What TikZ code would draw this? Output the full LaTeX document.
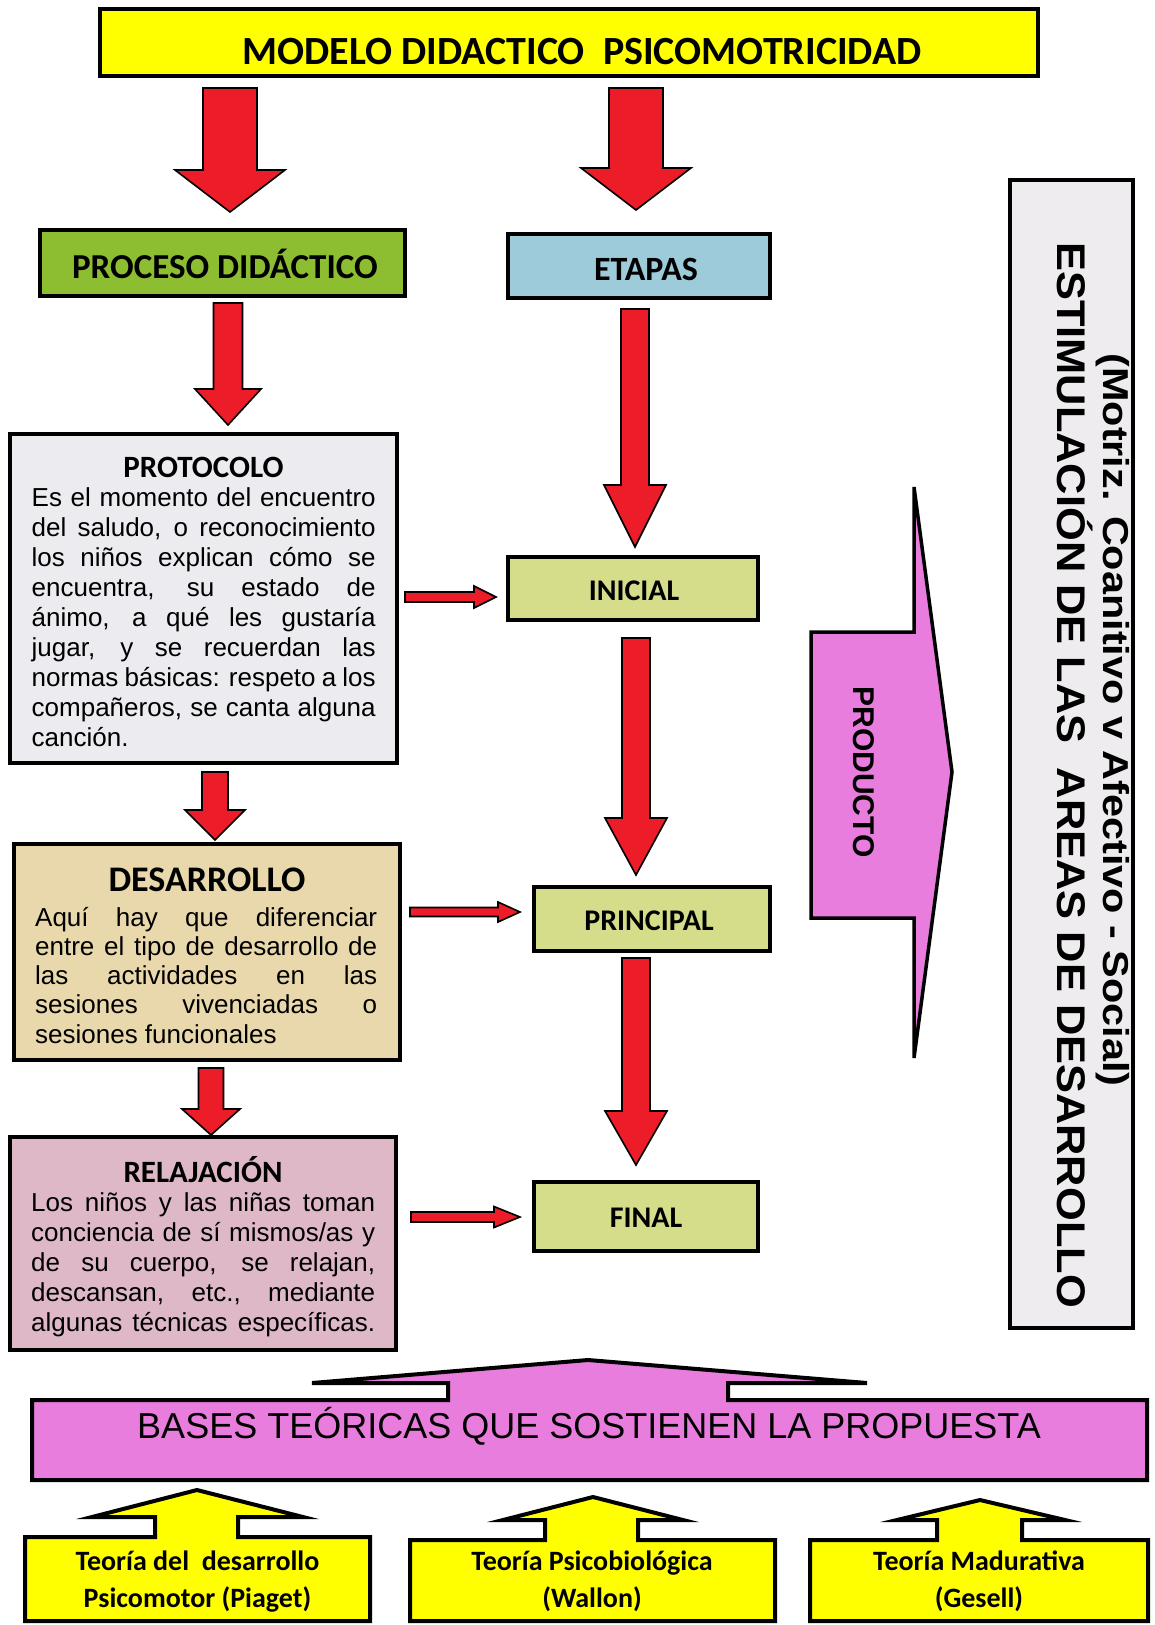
\documentclass[tikz,border=0pt]{standalone}
\usepackage{fontspec}
\usepackage{graphicx}
\setmainfont{Liberation Sans}
\newfontfamily\carl{Carlito}
\usetikzlibrary{calc}
\definecolor{ttlyellow}{RGB}{255,255,0}
\definecolor{procgreen}{RGB}{141,189,48}
\definecolor{etapblue}{RGB}{157,203,218}
\definecolor{protgray}{RGB}{236,236,240}
\definecolor{stagegreen}{RGB}{214,221,138}
\definecolor{destan}{RGB}{232,216,172}
\definecolor{relpink}{RGB}{222,184,198}
\definecolor{magpink}{RGB}{232,125,222}
\definecolor{estgray}{RGB}{238,236,238}
\definecolor{arrowred}{RGB}{236,28,40}
\newcommand\jl[1]{\hbox to \hsize{\spaceskip=0.278em plus 1fil minus 0.06em\relax\strut #1}}
\newcommand\lastline[1]{\hbox{\strut #1}}
\newcommand\downblock[5]{\draw[blockarrow] ($(#1)+(-#3,0)$) -- ($(#1)+(#3,0)$) -- ($(#2)+(#3,-#5)$) -- ($(#2)+(#4,-#5)$) -- (#2) -- ($(#2)+(-#4,-#5)$) -- ($(#2)+(-#3,-#5)$) -- cycle;}
\newcommand\rightblock[5]{\draw[blockarrow] ($(#1)+(0,-#3)$) -- ($(#2)+(-#5,-#3)$) -- ($(#2)+(-#5,-#4)$) -- (#2) -- ($(#2)+(-#5,#4)$) -- ($(#2)+(-#5,#3)$) -- ($(#1)+(0,#3)$) -- cycle;}
\tikzset{
  box/.style={draw=black, line width=4.5pt, inner sep=0pt},
  blockarrow/.style={fill=arrowred, draw=black, line width=1.6pt, line join=miter},
  shapeout/.style={draw=black, line width=4pt, line join=miter},
  txt/.style={anchor=base, inner sep=0pt},
  hd/.style={txt, font=\carl\bfseries\fontsize{#1}{#1}\selectfont},
  bodytxt/.style={anchor=base west, inner sep=0pt, font=\fontsize{26}{#1}\selectfont},
}
\begin{document}
\begin{tikzpicture}[x=1pt,y=-1pt]
\useasboundingbox[fill=white] (0,0) rectangle (1155,1625);

% ---------- boxes ----------
\node[box, fill=ttlyellow, minimum width=938pt, minimum height=67pt] (title) at (569,42.5) {};
\node[hd=40] (titlet) at (582,64) {MODELO DIDACTICO\ \ PSICOMOTRICIDAD};

\node[box, fill=procgreen, minimum width=365pt, minimum height=66pt] (proc) at (222.5,263) {};
\node[hd=35] (proct) at (225,278) {PROCESO DIDÁCTICO};

\node[box, fill=etapblue, minimum width=262pt, minimum height=64pt] (etap) at (639,266) {};
\node[hd=34] (etapt) at (646,280) {ETAPAS};

\node[box, fill=protgray, minimum width=387pt, minimum height=329pt] (proto) at (203.5,598.5) {};
\node[hd=31] (protoh) at (203.5,477) {PROTOCOLO};
\node[bodytxt=30] (protob) at (31.5,506) {\vtop{\hsize=344pt
\jl{Es el momento del encuentro}
\jl{del saludo, o reconocimiento}
\jl{los niños explican cómo se}
\jl{encuentra, su estado de}
\jl{ánimo, a qué les gustaría}
\jl{jugar, y se recuerdan las}
\jl{normas básicas: respeto a los}
\jl{compañeros, se canta alguna}
\lastline{canción.}}};

\node[box, fill=stagegreen, minimum width=250pt, minimum height=63pt] (inic) at (633,588.5) {};
\node[hd=30] (inict) at (634,600) {INICIAL};

\node[box, fill=destan, minimum width=386pt, minimum height=216pt] (des) at (207,952) {};
\node[hd=36] (desh) at (207,891.5) {DESARROLLO};
\node[bodytxt=29.3] (desb) at (35,926) {\vtop{\hsize=342pt
\jl{Aquí hay que diferenciar}
\jl{entre el tipo de desarrollo de}
\jl{las actividades en las}
\jl{sesiones vivenciadas o}
\lastline{sesiones funcionales}}};

\node[box, fill=stagegreen, minimum width=236pt, minimum height=64pt] (princ) at (652,919) {};
\node[hd=30] (princt) at (649,930) {PRINCIPAL};

\node[box, fill=relpink, minimum width=386pt, minimum height=213pt] (relaj) at (203,1243.5) {};
\node[hd=31] (relajh) at (203,1182) {RELAJACIÓN};
\node[bodytxt=30] (relajb) at (31,1211) {\vtop{\hsize=344pt
\jl{Los niños y las niñas toman}
\jl{conciencia de sí mismos/as y}
\jl{de su cuerpo, se relajan,}
\jl{descansan, etc., mediante}
\jl{algunas técnicas específicas.}}};

\node[box, fill=stagegreen, minimum width=224pt, minimum height=69pt] (final) at (646,1216.5) {};
\node[hd=30] (finalt) at (646,1227) {FINAL};

\node[box, fill=estgray, minimum width=123pt, minimum height=1148pt] (estim) at (1071.5,754) {};
\node[rotate=-90, inner sep=0pt, font=\bfseries\fontsize{40}{40}\selectfont] (estim1) at (1075,775) {\scalebox{1.085}[1]{ESTIMULACIÓN DE LAS\ \ AREAS DE DESARROLLO}};
\node[rotate=-90, inner sep=0pt, font=\bfseries\fontsize{36}{36}\selectfont] (estim2) at (1113,720) {\scalebox{1.15}[1]{(Motriz. Coanitivo v Afectivo - Social)}};

% ---------- PRODUCTO arrow ----------
\draw[shapeout, line width=3.5pt, fill=magpink] (811,632) -- (914,632) -- (914,487) -- (952,772) -- (914,1058) -- (914,918) -- (811,918) -- cycle;
\node[rotate=-90, inner sep=0pt, font=\bfseries\fontsize{30}{30}\selectfont] (prod) at (864,772) {PRODUCTO};

% ---------- BASES ----------
\draw[shapeout, fill=magpink] (32,1400) -- (448,1400) -- (448,1383) -- (312,1383) -- (588,1360) -- (867,1383) -- (728,1383) -- (728,1400) -- (1147,1400) -- (1147,1480) -- (32,1480) -- cycle;
\node[txt, font=\fontsize{36}{36}\selectfont] (bases) at (589,1438) {BASES TEÓRICAS QUE SOSTIENEN LA PROPUESTA};

% ---------- theories ----------
\draw[shapeout, fill=ttlyellow] (25,1537) -- (155,1537) -- (155,1517) -- (92,1517) -- (197,1490) -- (303,1517) -- (238,1517) -- (238,1537) -- (370,1537) -- (370,1621) -- (25,1621) -- cycle;
\draw[shapeout, fill=ttlyellow] (410,1540) -- (545,1540) -- (545,1520) -- (503,1520) -- (593,1497) -- (683,1520) -- (638,1520) -- (638,1540) -- (775,1540) -- (775,1621) -- (410,1621) -- cycle;
\draw[shapeout, fill=ttlyellow] (810,1540) -- (937,1540) -- (937,1520) -- (897,1520) -- (980,1500) -- (1065,1520) -- (1022,1520) -- (1022,1540) -- (1148,1540) -- (1148,1621) -- (810,1621) -- cycle;
\node[hd=28] (piag1) at (197.5,1570) {Teoría del\ \ desarrollo};
\node[hd=28] (piag2) at (197.5,1607) {Psicomotor (Piaget)};
\node[hd=28] (wall1) at (592,1570) {Teoría Psicobiológica};
\node[hd=28] (wall2) at (592,1607) {(Wallon)};
\node[hd=28] (ges1) at (979,1570) {Teoría Madurativa};
\node[hd=28] (ges2) at (979,1607) {(Gesell)};

% ---------- red block arrows ----------
\coordinate (t1s) at (230,88);   \coordinate (t1e) at (230,212);
\coordinate (t2s) at (636,88);   \coordinate (t2e) at (636,210);
\coordinate (p1s) at (228,303);  \coordinate (p1e) at (228,425);
\coordinate (e1s) at (635,309);  \coordinate (e1e) at (635,547);
\coordinate (i1s) at (636,638);  \coordinate (i1e) at (636,875);
\coordinate (r1s) at (636,958);  \coordinate (r1e) at (636,1165);
\coordinate (l2s) at (215,772);  \coordinate (l2e) at (215,840);
\coordinate (l3s) at (211,1068); \coordinate (l3e) at (211,1135);
\coordinate (h1s) at (405,597);  \coordinate (h1e) at (496,597);
\coordinate (h2s) at (410,912);  \coordinate (h2e) at (520,912);
\coordinate (h3s) at (411,1217); \coordinate (h3e) at (520,1217);
\downblock{t1s}{t1e}{27}{55}{42}
\downblock{t2s}{t2e}{27}{55}{42}
\downblock{p1s}{p1e}{14.5}{33}{36}
\downblock{e1s}{e1e}{14}{31}{62}
\downblock{i1s}{i1e}{14}{31}{57}
\downblock{r1s}{r1e}{14}{31}{54}
\downblock{l2s}{l2e}{13}{30}{30}
\downblock{l3s}{l3e}{12.5}{29}{26}
\rightblock{h1s}{h1e}{5}{11}{22}
\rightblock{h2s}{h2e}{4.5}{10}{22}
\rightblock{h3s}{h3e}{5}{10.5}{26}
\end{tikzpicture}
\end{document}
